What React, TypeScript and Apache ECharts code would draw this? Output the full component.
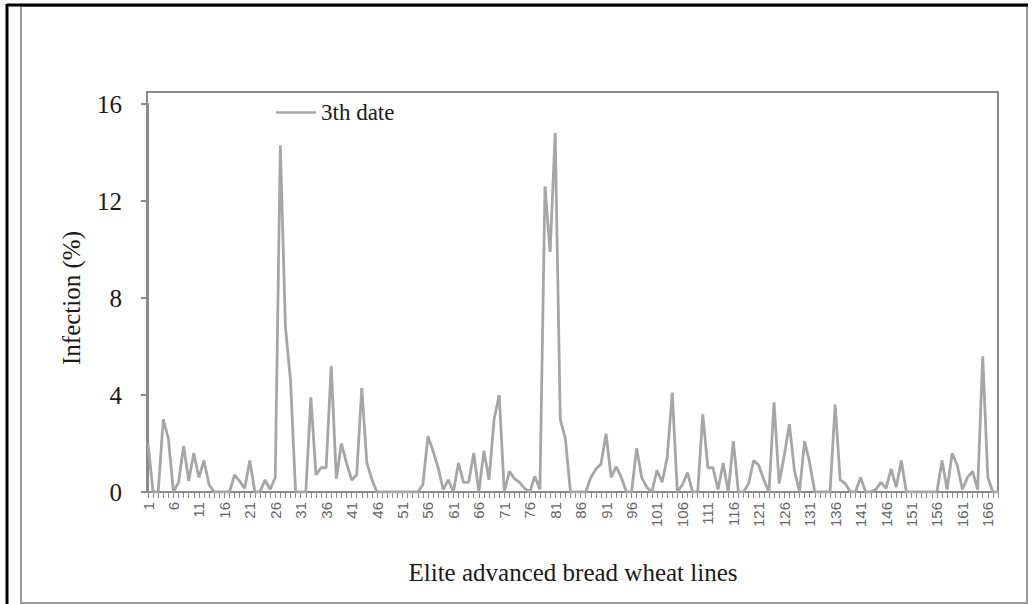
import React, { useEffect, useRef } from "react";
import * as echarts from "echarts";

const lineNumbers: string[] = Array.from({ length: 168 }, (_, i) => String(i + 1));

const infection3rd: number[] = [
  2.0, 0, 0, 3.0, 2.2, 0, 0.4, 1.9, 0.45, 1.6,
  0.6, 1.3, 0.3, 0, 0, 0, 0, 0.7, 0.45, 0.15,
  1.3, 0, 0, 0.5, 0.1, 0.6, 14.3, 6.8, 4.6, 0,
  0, 0, 3.9, 0.7, 1.0, 1.0, 5.2, 0.55, 2.0, 1.2,
  0.5, 0.7, 4.3, 1.2, 0.5, 0, 0, 0, 0, 0,
  0, 0, 0, 0, 0.3, 2.3, 1.7, 1.0, 0.1, 0.5,
  0, 1.2, 0.4, 0.4, 1.6, 0, 1.7, 0.5, 3.0, 4.0,
  0, 0.85, 0.55, 0.4, 0.15, 0, 0.65, 0.1, 12.6, 9.9,
  14.8, 3.0, 2.2, 0, 0, 0, 0, 0.6, 0.95, 1.15,
  2.4, 0.6, 1.05, 0.6, 0, 0, 1.8, 0.6, 0.2, 0,
  0.9, 0.4, 1.4, 4.1, 0, 0.3, 0.8, 0, 0, 3.2,
  1.0, 1.0, 0.1, 1.2, 0, 2.1, 0, 0, 0.35, 1.3,
  1.1, 0.5, 0, 3.7, 0.35, 1.5, 2.8, 0.9, 0, 2.1,
  1.2, 0, 0, 0, 0, 3.6, 0.5, 0.35, 0, 0,
  0.6, 0, 0, 0.1, 0.4, 0.15, 0.95, 0.2, 1.3, 0,
  0, 0, 0, 0, 0, 0, 1.3, 0.1, 1.6, 1.1,
  0.1, 0.6, 0.85, 0.1, 5.6, 0.6, 0, 0,
];

const yTicks = { min: 0, max: 16, interval: 4 };
const seriesName = "3th date";
const xTitle = "Elite advanced bread wheat lines";
const yTitle = "Infection (%)";

const SERIF = "'Liberation Serif', 'Times New Roman', serif";
const SANS = "'Liberation Sans', Arial, sans-serif";

export default function App() {
  const ref = useRef<HTMLDivElement>(null);

  useEffect(() => {
    if (!ref.current) return;
    const chart = echarts.init(ref.current, null, { renderer: "svg" });
    const axisGray = "#8a8a8a";
    chart.setOption({
      animation: false,
      backgroundColor: "#ffffff",
      grid: { left: 148, right: 37, top: 104, bottom: 112, containLabel: false },
      legend: {
        left: 276,
        top: 101,
        padding: 0,
        itemWidth: 40,
        itemHeight: 26,
        itemGap: 5,
        icon: "path://M0,12 L40,12 L40,14.5 L0,14.5 Z",
        data: [seriesName],
        textStyle: { fontFamily: SERIF, fontSize: 23, color: "#1a1a1a" },
      },
      xAxis: {
        type: "category",
        data: lineNumbers,
        boundaryGap: false,
        name: xTitle,
        nameLocation: "middle",
        nameGap: 68,
        nameTextStyle: { fontFamily: SERIF, fontSize: 25, color: "#1a1a1a" },
        axisLine: { show: true, lineStyle: { color: axisGray, width: 2 } },
        axisTick: { show: true, interval: 0, length: 6, lineStyle: { color: axisGray, width: 1 } },
        axisLabel: {
          interval: 4,
          rotate: 90,
          margin: 10,
          fontFamily: SANS,
          fontSize: 15,
          color: "#666666",
        },
        splitLine: { show: false },
      },
      yAxis: {
        type: "value",
        min: yTicks.min,
        max: yTicks.max,
        interval: yTicks.interval,
        name: yTitle,
        nameLocation: "middle",
        nameGap: 64,
        nameTextStyle: { fontFamily: SERIF, fontSize: 25, color: "#1a1a1a" },
        axisLine: { show: true, lineStyle: { color: axisGray, width: 2 } },
        axisTick: { show: true, length: 7, lineStyle: { color: axisGray, width: 2 } },
        axisLabel: { margin: 26, fontFamily: SERIF, fontSize: 25, color: "#1a1a1a" },
        splitLine: { show: false },
      },
      series: [
        {
          name: seriesName,
          type: "line",
          data: infection3rd,
          symbol: "none",
          lineStyle: { color: "#a6a6a6", width: 2.8 },
          itemStyle: { color: "#a6a6a6" },
        },
      ],
      graphic: [
        {
          type: "rect",
          shape: { x: 147, y: 92, width: 851, height: 400 },
          style: { fill: "none", stroke: axisGray, lineWidth: 2 },
          silent: true,
        },
        {
          type: "rect",
          shape: { x: 21, y: 6, width: 1006, height: 597 },
          style: { fill: "none", stroke: "#9a9a9a", lineWidth: 2 },
          silent: true,
        },
        {
          type: "line",
          shape: { x1: 7, y1: 5, x2: 1028, y2: 5 },
          style: { stroke: "#000000", lineWidth: 3 },
          silent: true,
        },
        {
          type: "line",
          shape: { x1: 7, y1: 4, x2: 7, y2: 604 },
          style: { stroke: "#000000", lineWidth: 3 },
          silent: true,
        },
      ],
    });
    return () => chart.dispose();
  }, []);

  return (
    <div
      ref={ref}
      style={{ position: "absolute", left: 0, top: 0, width: 1035, height: 604, background: "#fff" }}
    />
  );
}
